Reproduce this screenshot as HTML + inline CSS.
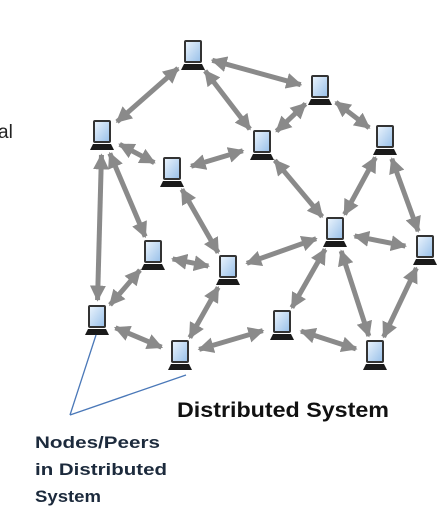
<!DOCTYPE html>
<html><head><meta charset="utf-8"><style>
body{margin:0;width:444px;height:520px;background:#fff;overflow:hidden;font-family:"Liberation Sans",sans-serif}
svg{position:absolute;left:0;top:0}
</style></head><body>
<svg id="s" width="444" height="520" viewBox="0 0 444 520">
<defs>
<marker id="ah" viewBox="0 0 10 10" refX="9" refY="5" markerWidth="3.2" markerHeight="3.2" orient="auto-start-reverse" markerUnits="strokeWidth"><path d="M0,0 L10,5 L0,10 z" fill="#8a8a8a"/></marker>
<linearGradient id="sc" x1="0" y1="0" x2="1" y2="1"><stop offset="0" stop-color="#e8f2fc"/><stop offset="1" stop-color="#9cc2ea"/></linearGradient>
</defs>
<g id="edges"></g>
<g id="nodes"></g>
<line x1="96" y1="335" x2="70" y2="415" stroke="#4a78b8" stroke-width="1.3"/>
<line x1="186" y1="375" x2="70" y2="415" stroke="#4a78b8" stroke-width="1.3"/>
<text x="-2" y="138" font-size="19" fill="#222">al</text>
<text x="177" y="417" font-size="21" font-weight="bold" fill="#111" textLength="212" lengthAdjust="spacingAndGlyphs">Distributed System</text>
<text x="35" y="448" font-size="17" font-weight="bold" fill="#1c2a3c" textLength="125" lengthAdjust="spacingAndGlyphs">Nodes/Peers</text>
<text x="35" y="475" font-size="17" font-weight="bold" fill="#1c2a3c" textLength="132" lengthAdjust="spacingAndGlyphs">in Distributed</text>
<text x="35" y="502" font-size="17" font-weight="bold" fill="#1c2a3c" textLength="66" lengthAdjust="spacingAndGlyphs">System</text>
</svg>
<script>
var N={A:[193,55],B:[320,90],C:[102,135],D:[262,145],E:[385,140],F:[172,172],G:[335,232],H:[153,255],I:[228,270],J:[425,250],K:[97,320],L:[282,325],M:[180,355],N:[375,355]};
var E=[["A","C"],["A","D"],["A","B"],["B","D"],["B","E"],["C","F"],["D","F"],["D","G"],["E","G"],["E","J"],["C","H"],["C","K"],["F","I"],["H","I"],["H","K"],["I","G"],["I","M"],["G","J"],["G","N"],["G","L"],["J","N"],["K","M"],["M","L"],["L","N"]];
var ns="http://www.w3.org/2000/svg",eg=document.getElementById("edges"),ng=document.getElementById("nodes");
E.forEach(function(e){var a=N[e[0]],b=N[e[1]],dx=b[0]-a[0],dy=b[1]-a[1],d=Math.hypot(dx,dy),s=20/d;
var l=document.createElementNS(ns,"line");
l.setAttribute("x1",a[0]+dx*s);l.setAttribute("y1",a[1]+dy*s);l.setAttribute("x2",b[0]-dx*s);l.setAttribute("y2",b[1]-dy*s);
l.setAttribute("stroke","#8a8a8a");l.setAttribute("stroke-width","5");l.setAttribute("marker-start","url(#ah)");l.setAttribute("marker-end","url(#ah)");eg.appendChild(l);});
for(var k in N){var x=N[k][0],y=N[k][1];
var g=document.createElementNS(ns,"g");
g.innerHTML='<rect x="'+(x-9)+'" y="'+(y-15)+'" width="18" height="23" rx="2" fill="#333"/><rect x="'+(x-7)+'" y="'+(y-13)+'" width="14" height="19" fill="url(#sc)"/><path d="M'+(x-9)+','+(y+9)+' L'+(x+9)+','+(y+9)+' L'+(x+12)+','+(y+15)+' L'+(x-12)+','+(y+15)+' z" fill="#1a1a1a"/>';
ng.appendChild(g);}
</script>
</body></html>
